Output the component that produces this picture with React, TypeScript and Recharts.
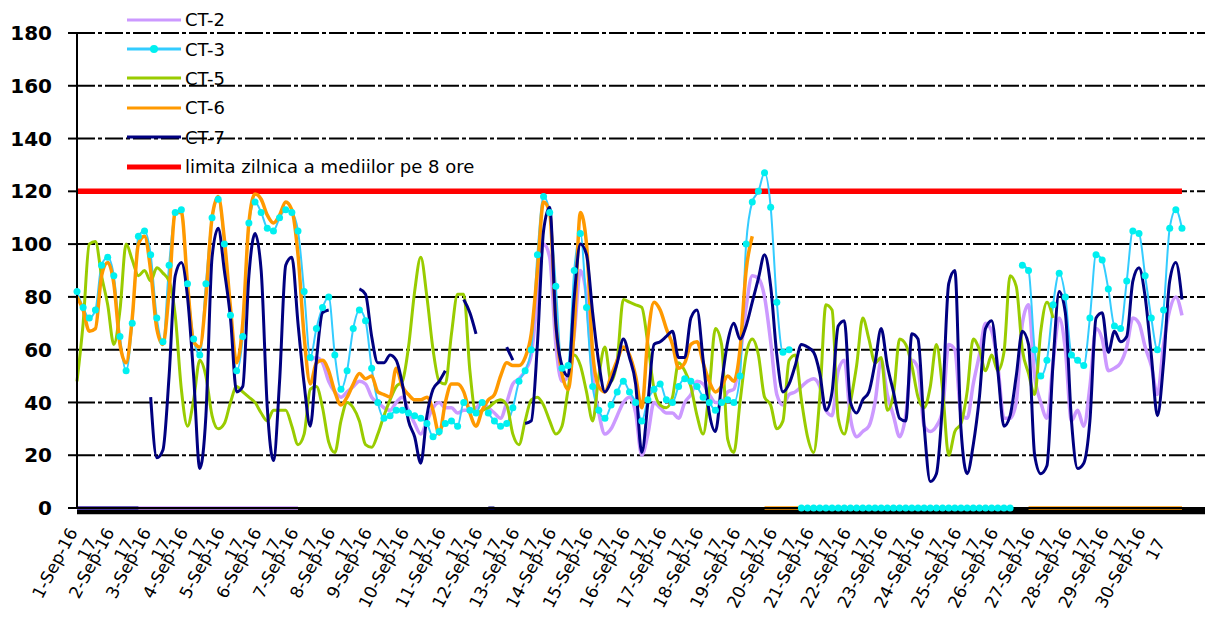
import React from 'react';
import { LineChart, Line, XAxis, YAxis, CartesianGrid, Legend, ReferenceArea } from 'recharts';

// one row every 4 hours, 6 rows per day, 1-Sep .. 30-Sep (+ closing point)
const DAY_LABELS = [
  '1-Sep-16', '2-Sep-16', '3-Sep-16', '4-Sep-16', '5-Sep-16', '6-Sep-16',
  '7-Sep-16', '8-Sep-16', '9-Sep-16', '10-Sep-16', '11-Sep-16', '12-Sep-16',
  '13-Sep-16', '14-Sep-16', '15-Sep-16', '16-Sep-16', '17-Sep-16', '18-Sep-16',
  '19-Sep-16', '20-Sep-16', '21-Sep-16', '22-Sep-16', '23-Sep-16', '24-Sep-16',
  '25-Sep-16', '26-Sep-16', '27-Sep-16', '28-Sep-16', '29-Sep-16', '30-Sep-16',
];
const LABEL_LINE2 = '17';
const STEPS_PER_DAY = 6;
const LIMIT = 120;
const Y_TICKS = [0, 20, 40, 60, 80, 100, 120, 140, 160, 180];

const n = null;

const CT2 = [
  0, 0, 0, 0, 0, 0,
  0, 0, 0, 0, 0, 0,
  0, 0, 0, 0, 0, 0,
  0, 0, 0, 0, 0, 0,
  0, 0, 0, 0, 0, 0,
  0, 0, 0, 0, 0, 0,
  0, n, 56, 57, 55, 48,
  44, 42, 44, 46, 48, 47,
  42, 40, 38, 37, 40, 42,
  37, 32, 28, 33, 38, 40,
  38, 38, 36, 37, 37, 38,
  40, 38, 36, 34, 40, 47,
  49, 52, 58, 80, 100, 95,
  62, 48, 50, 66, 90, 80,
  50, 36, 28, 30, 35, 40,
  42, 36, 20, 28, 40, 38,
  36, 36, 34, 40, 43, 48,
  47, 43, 40, 40, 44, 45,
  57, 76, 88, 87, 80, 63,
  43, 39, 43, 44, 46, 48,
  49, 46, 37, 35, 52, 56,
  34, 27, 29, 31, 40, 56,
  43, 35, 27, 35, 56, 53,
  31, 29, 31, 37, 62, 60,
  36, 34, 47, 58, 70, 67,
  54, 34, 34, 40, 70, 77,
  50, 40, 34, 55, 72, 60,
  33, 37, 31, 46, 68, 64,
  52, 53, 55, 61, 72, 70,
  61, 54, 43, 62, 75, 80,
  73,
];

const CT3 = [
  82, 76, 72, 75, 92, 95,
  88, 65, 52, 70, 103, 105,
  96, 72, 63, 92, 112, 113,
  85, 64, 58, 85, 110, 117,
  100, 73, 52, 65, 108, 116,
  112, 106, 105, 110, 113, 112,
  105, 82, 57, 68, 76, 80,
  58, 45, 52, 68, 75, 71,
  53, 40, 34, 35, 37, 37,
  36, 35, 34, 32, 27, 29,
  32, 33, 31, 40, 37, 36,
  40, 36, 33, 31, 32, 38,
  48, 52, 60, 96, 118, 112,
  84, 53, 54, 90, 104, 76,
  46, 37, 34, 39, 44, 48,
  44, 40, 33, 41, 45, 47,
  41, 40, 46, 49, 48, 46,
  42, 40, 37, 40, 41, 40,
  50, 100, 116, 120, 127, 114,
  78, 59, 60, n, 0, 0,
  0, 0, 0, 0, 0, 0,
  0, 0, 0, 0, 0, 0,
  0, 0, 0, 0, 0, 0,
  0, 0, 0, 0, 0, 0,
  0, 0, 0, 0, 0, 0,
  0, 0, 0, n, 92, 90,
  60, 50, 56, 77, 89, 80,
  58, 56, 54, 72, 96, 94,
  83, 69, 68, 86, 105, 104,
  88, 72, 60, 75, 106, 113,
  106,
];

const CT5 = [
  48, 70, 100, 101, 88, 77,
  62, 75, 100, 94, 88, 90,
  86, 91, 89, 86, 73, 45,
  31, 41, 56, 50, 35, 30,
  32, 40, 46, 44, 42, 40,
  36, 33, 37, 37, 37, 31,
  24, 28, 45, 46, 38, 25,
  21, 33, 40, 38, 33, 24,
  23, 28, 35, 41, 46, 48,
  61, 82, 95, 80, 60, 48,
  47, 66, 81, 81, 52, 36,
  37, 38, 40, 41, 39, 28,
  24, 33, 41, 42, 39, 33,
  28, 31, 45, 58, 54, 44,
  33, 50, 61, 48, 56, 79,
  78, 77, 76, 62, 45, 39,
  38, 42, 55, 52, 46, 35,
  28, 45, 68, 62, 26, 21,
  40, 58, 64, 58, 42, 39,
  30, 33, 56, 58, 41, 27,
  21, 42, 77, 75, 34, 28,
  40, 54, 72, 64, 55, 57,
  37, 43, 64, 62, 54, 42,
  38, 46, 62, 45, 20, 29,
  32, 44, 64, 60, 52, 58,
  52, 59, 88, 84, 60, 51,
  43, 67, 78, 72, n, n,
  n, n, n, n, n, n,
  n, n, n, n, n, n,
  n, n, n, n, n, n,
  n,
];

const CT6 = [
  80, 75, 67, 68, 88, 93,
  85, 62, 55, 72, 100, 103,
  90, 68, 62, 82, 112, 112,
  85, 63, 61, 80, 110, 118,
  102, 76, 55, 70, 108, 119,
  117, 111, 108, 111, 116, 113,
  96, 65, 47, 55, 56, 52,
  44, 39, 42, 47, 51, 49,
  50, 44, 43, 42, 53, 46,
  43, 41, 41, 42, 37, 28,
  40, 47, 47, 44, 36, 31,
  37, 41, 43, 50, 55, 54,
  54, 57, 66, 90, 116, 112,
  70, 51, 45, 68, 112, 100,
  59, 46, 44, 50, 56, 61,
  58, 50, 38, 65, 78, 75,
  68, 62, 53, 55, 62, 63,
  55, 48, 44, 46, 50, 48,
  60, 90, 103, n, 0, 0,
  0, 0, 0, 0, 0, 0,
  0, 0, 0, 0, 0, 0,
  0, 0, 0, 0, 0, 0,
  0, 0, 0, 0, 0, 0,
  0, 0, 0, 0, 0, 0,
  0, 0, 0, 0, 0, 0,
  0, 0, 0, n, n, 0,
  0, 0, 0, 0, 0, 0,
  0, 0, 0, 0, 0, 0,
  0, 0, 0, 0, 0, 0,
  0, 0, 0, 0, 0, 0,
  0,
];

const CT7 = [
  0, 0, 0, 0, 0, 0,
  0, 0, 0, 0, 0, n,
  42, 19, 22, 50, 88, 93,
  80, 50, 15, 35, 95, 106,
  90, 72, 44, 46, 88, 104,
  90, 38, 18, 48, 92, 95,
  70, 47, 31, 56, 74, 75,
  n, n, n, n, 83, 81,
  65, 55, 55, 58, 56, 47,
  33, 27, 17, 35, 45, 48,
  52, n, n, 79, 74, 66,
  n, 0, 0, n, 61, 56,
  n, 32, 33, 62, 105, 114,
  70, 54, 50, 80, 100, 96,
  74, 55, 44, 48, 55, 64,
  57, 47, 21, 40, 62, 63,
  65, 67, 57, 57, 72, 75,
  56, 36, 29, 47, 63, 70,
  64, 69, 78, 87, 96, 84,
  58, 44, 47, 54, 62, 61,
  59, 51, 37, 44, 69, 71,
  40, 36, 41, 44, 55, 68,
  54, 44, 34, 33, 66, 64,
  31, 10, 13, 40, 85, 90,
  30, 13, 24, 42, 68, 71,
  52, 31, 35, 50, 67, 62,
  20, 13, 16, 55, 82, 74,
  33, 15, 17, 33, 72, 74,
  59, 67, 63, 65, 86, 91,
  80, 58, 35, 55, 86, 93,
  79,
];

const rows = CT7.map((_, i) => ({
  t: i,
  ct2: CT2[i],
  ct3: CT3[i],
  ct5: CT5[i],
  ct6: CT6[i],
  ct7: CT7[i],
  limit: LIMIT,
}));

const X_MAX = 183.75;
const X_TICKS = DAY_LABELS.map((_, d) => d * STEPS_PER_DAY);

const LEGEND_ITEMS = [
  { name: 'CT-2', color: '#CC99FF', width: 3 },
  { name: 'CT-3', color: '#33CCFF', width: 3, dot: '#00F0F0' },
  { name: 'CT-5', color: '#99CC00', width: 3 },
  { name: 'CT-6', color: '#FF9900', width: 3 },
  { name: 'CT-7', color: '#000080', width: 3 },
  { name: 'limita zilnica a mediilor pe 8 ore', color: '#FF0000', width: 5 },
];

function LegendBox() {
  return (
    <div style={{ fontFamily: 'DejaVu Sans', fontSize: 18, color: '#000' }}>
      {LEGEND_ITEMS.map((item) => (
        <div key={item.name} style={{ display: 'flex', alignItems: 'center', height: 29.4 }}>
          <svg width={56} height={12}>
            <line x1={0} y1={6} x2={54} y2={6} stroke={item.color} strokeWidth={item.width} />
            {item.dot && <circle cx={27} cy={6} r={4} fill={item.dot} />}
          </svg>
          <span style={{ marginLeft: 2, whiteSpace: 'nowrap' }}>{item.name}</span>
        </div>
      ))}
    </div>
  );
}

function DayTick({ x, y, payload }: any) {
  const label = DAY_LABELS[payload.value / STEPS_PER_DAY];
  if (!label) return null;
  return (
    <g transform={`translate(${x + 1},${y + 18})`}>
      <text transform="rotate(-62)" textAnchor="end" fontFamily="DejaVu Sans" fontSize={17} fill="#000">
        <tspan x={0} dy={0}>{label}</tspan>
        <tspan x={0} dy={22}>{LABEL_LINE2}</tspan>
      </text>
    </g>
  );
}

export default function App() {
  return (
    <div style={{ position: 'absolute', left: 0, top: 0, background: '#fff' }}>
      <LineChart
        width={1209}
        height={621}
        data={rows}
        margin={{ top: 33, right: 4, left: 0, bottom: 0 }}
      >
        <CartesianGrid
          vertical={false}
          stroke="#000"
          strokeWidth={2}
          strokeDasharray="18 3 4 3"
        />
        <XAxis
          type="number"
          dataKey="t"
          domain={[0, X_MAX]}
          ticks={X_TICKS}
          interval={0}
          height={113}
          axisLine={{ stroke: '#000', strokeWidth: 2 }}
          tickLine={false}
          tickSize={6}
          tickMargin={0}
          tick={(props: any) => <DayTick {...props} />}
        />
        <YAxis
          domain={[0, 180]}
          ticks={Y_TICKS}
          interval={0}
          width={77}
          tickSize={9}
          tickMargin={16}
          axisLine={{ stroke: '#000', strokeWidth: 2 }}
          tickLine={{ stroke: '#000', strokeWidth: 2 }}
          tick={{ fill: '#000', fontSize: 20, fontWeight: 700, fontFamily: 'DejaVu Sans' }}
        />
        {/* the solid black band under the category axis */}
        <ReferenceArea
          x1={0}
          x2={X_MAX}
          y1={-2.4}
          y2={0}
          ifOverflow="visible"
          fill="#000"
          fillOpacity={1}
          stroke="none"
        />
        <Legend
          layout="vertical"
          align="center"
          verticalAlign="middle"
          content={() => <LegendBox />}
          wrapperStyle={{ top: 5, left: 127, width: 420, height: 180 }}
        />
        <Line dataKey="limit" type="linear" stroke="#FF0000" strokeWidth={5.5} dot={false} isAnimationActive={false} />
        <Line dataKey="ct2" type="monotone" stroke="#CC99FF" strokeWidth={3.5} dot={false} isAnimationActive={false} />
        <Line
          dataKey="ct3"
          type="monotone"
          stroke="#33CCFF"
          strokeWidth={2}
          dot={{ r: 3.5, fill: '#00F0F0', stroke: 'none' }}
          isAnimationActive={false}
        />
        <Line dataKey="ct5" type="monotone" stroke="#99CC00" strokeWidth={3} dot={false} isAnimationActive={false} />
        <Line dataKey="ct6" type="monotone" stroke="#FF9900" strokeWidth={3.5} dot={false} isAnimationActive={false} />
        <Line dataKey="ct7" type="monotone" stroke="#000080" strokeWidth={3} dot={false} isAnimationActive={false} />
      </LineChart>
    </div>
  );
}
